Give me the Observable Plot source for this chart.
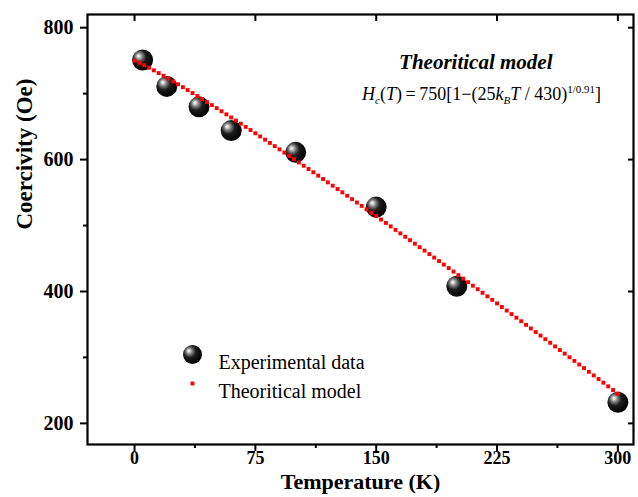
<!DOCTYPE html>
<html><head><meta charset="utf-8">
<script src="https://cdn.jsdelivr.net/npm/d3@7"></script>
<script src="https://cdn.jsdelivr.net/npm/@observablehq/plot@0.6"></script>
<style>body{margin:0;background:#fff}</style>
</head><body><div id="chart"></div>
<script>
// Experimental data (Temperature K, Coercivity Oe)
const expT = [5, 20, 40, 60, 100, 150, 200, 300];
const expH = [751, 711, 680, 644, 611, 528, 408, 232];

// Theoretical model curve
const modelT = [0,3,6,9,12,15,18,21,24,27,30,33,36,39,42,45,48,51,54,57,60,63,66,69,72,75,78,81,84,87,90,93,96,99,102,105,108,111,114,117,120,123,126,129,132,135,138,141,144,147,150,153,156,159,162,165,168,171,174,177,180,183,186,189,192,195,198,201,204,207,210,213,216,219,222,225,228,231,234,237,240,243,246,249,252,255,258,261,264,267,270,273,276,279,282,285,288,291,294,297,300];
const modelH = [750,746.8,743.1,739.3,735.3,731.2,727.1,722.8,718.5,714.2,709.8,705.4,700.9,696.4,691.8,687.2,682.6,678.0,673.3,668.6,663.9,659.1,654.4,649.6,644.8,639.9,635.1,630.2,625.3,620.4,615.5,610.6,605.6,600.7,595.7,590.7,585.7,580.7,575.6,570.6,565.5,560.4,555.4,550.3,545.2,540.0,534.9,529.8,524.6,519.4,514.3,509.1,503.9,498.7,493.4,488.2,483.0,477.8,472.5,467.2,462.0,456.7,451.4,446.1,440.8,435.5,430.2,424.8,419.5,414.1,408.8,403.5,398.1,392.7,387.3,381.9,376.5,371.1,365.7,360.3,354.9,349.4,344.0,338.6,333.1,327.7,322.2,316.7,311.2,305.8,300.3,294.8,289.3,283.8,278.2,272.7,267.2,261.7,256.2,250.6,245.1];

const xTicks = [0, 75, 150, 225, 300];
const xMinor = [37.5, 112.5, 187.5, 262.5];
const yTicks = [200, 400, 600, 800];
const yMinor = [300, 500, 700];
const xLabel = "Temperature (K)";
const yLabel = "Coercivity (Oe)";
const legendLabels = ["Experimental data", "Theoritical model"];
const modelTitle = "Theoritical model";

const expData = expT.map((t, i) => ({t, h: expH[i]}));
const modelData = modelT.map((t, i) => ({t, h: modelH[i]}));

const FONT = "Liberation Serif";

const plot = Plot.plot({
  width: 638, height: 497,
  marginLeft: 87, marginRight: 5, marginTop: 14, marginBottom: 53,
  style: {fontFamily: FONT, background: "white", color: "black", overflow: "visible"},
  x: {domain: [-29.2, 309.7]},
  y: {domain: [168, 820]},
  marks: [
    // bottom axis
    Plot.axisX({ticks: xTicks, tickSize: 7, tickPadding: 0, fontSize: 18, fontWeight: "bold", strokeWidth: 2, label: null}),
    Plot.axisX({ticks: xMinor, tickSize: 4, strokeWidth: 2, text: null, label: null}),
    // top mirror ticks (inward)
    Plot.axisX({anchor: "top", ticks: xTicks, tickSize: -6, strokeWidth: 2, text: null, label: null}),
    // left axis
    Plot.axisY({ticks: yTicks, tickSize: 7, tickPadding: 7, fontSize: 20, fontWeight: "bold", strokeWidth: 2, label: null}),
    Plot.axisY({ticks: yMinor, tickSize: 4, strokeWidth: 2, text: null, label: null}),
    // right mirror ticks (inward)
    Plot.axisY({anchor: "right", ticks: yTicks, tickSize: -6, strokeWidth: 2, text: null, label: null}),
    Plot.frame({stroke: "black", strokeWidth: 2.2}),
    // axis titles
    Plot.text([xLabel], {frameAnchor: "bottom", dy: 44, fontSize: 22, fontWeight: "bold", text: d => d}),
    Plot.text([yLabel], {frameAnchor: "left", dx: -63, rotate: -90, fontSize: 23, fontWeight: "bold", text: d => d}),
    // data
    Plot.dot(expData, {x: "t", y: "h", r: 10.5, fill: "black", stroke: "none"}),
    Plot.dot(modelData, {x: "t", y: "h", symbol: "square", r: 2.2, fill: "#ff0000", stroke: "none"}),
    // legend
    Plot.dot([0], {frameAnchor: "top-left", dx: 105, dy: 340, r: 9.5, fill: "black", stroke: "none"}),
    Plot.dot([0], {frameAnchor: "top-left", dx: 105, dy: 369, symbol: "square", r: 2.2, fill: "#ff0000", stroke: "none"}),
    Plot.text([legendLabels[0]], {frameAnchor: "top-left", dx: 131, dy: 340, textAnchor: "start", fontSize: 20, text: d => d}),
    Plot.text([legendLabels[1]], {frameAnchor: "top-left", dx: 131, dy: 369, textAnchor: "start", fontSize: 20, text: d => d}),
    // model title
    Plot.text([modelTitle], {frameAnchor: "top-right", dx: -81, dy: 40, textAnchor: "end", fontSize: 21, fontWeight: "bold", fontStyle: "italic", text: d => d})
  ]
});

const svg = d3.select(plot);
const defs = svg.insert("defs", ":first-child");
const grad = defs.append("radialGradient").attr("id", "sphere")
  .attr("cx", "0.4").attr("cy", "0.38").attr("r", "0.62").attr("fx", "0.3").attr("fy", "0.3");
[["0%", "#ffffff"], ["10%", "#d8d8d8"], ["28%", "#7a7a7a"], ["52%", "#1c1c1c"], ["100%", "#000000"]]
  .forEach(([o, c]) => grad.append("stop").attr("offset", o).attr("stop-color", c));
svg.selectAll("circle").attr("fill", "url(#sphere)");

// formula
const f = svg.append("text").attr("x", 601).attr("y", 100).attr("text-anchor", "end")
  .attr("font-family", FONT).attr("font-size", 18).attr("fill", "black");
const parts = [
  {t: "H", it: true},
  {t: "c", it: true, size: 11, dy: 4},
  {t: "(", dy: -4},
  {t: "T", it: true},
  {t: ")\u2009=\u2009750[1\u2212(25"},
  {t: "k", it: true},
  {t: "B", it: true, size: 11, dy: 4},
  {t: "T", it: true, dy: -4},
  {t: " / 430)"},
  {t: "1/0.91", size: 11, dy: -7},
  {t: "]", dy: 7}
];
parts.forEach(p => {
  const ts = f.append("tspan").text(p.t);
  if (p.it) ts.attr("font-style", "italic");
  if (p.size) ts.attr("font-size", p.size);
  if (p.dy) ts.attr("dy", p.dy);
});

document.getElementById("chart").appendChild(plot);
</script>
</body></html>
